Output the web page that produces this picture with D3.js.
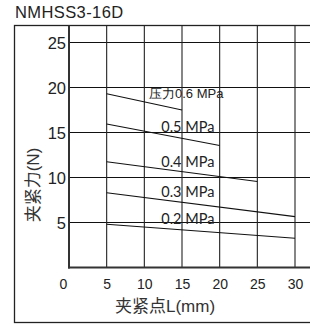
<!DOCTYPE html>
<html>
<head>
<meta charset="utf-8">
<script src="https://cdn.jsdelivr.net/npm/d3@7"></script>
<style>
  body { margin: 0; background: #fff; }
  svg { display: block; }
</style>
</head>
<body>
<div id="chart"></div>
<script>
// chart values
const title = 'NMHSS3-16D';
const xTitle = '夹紧点L(mm)';
const yTitle = '夹紧力(N)';
const xTicks = [0, 5, 10, 15, 20, 25, 30];
const yTicks = [5, 10, 15, 20, 25];
const pressureLabels = ['0.2 MPa', '0.3 MPa', '0.4 MPa', '0.5 MPa', '压力0.6 MPa'];
const startL = [5, 5, 5, 5, 5];
const endL = [30, 30, 25, 20, 15];
const forceAtStart = [4.8, 8.3, 11.75, 15.95, 19.3];
const forceAtEnd = [3.25, 5.65, 9.55, 13.55, 17.5];

const width = 310, height = 324;
const svg = d3.select('#chart').append('svg')
    .attr('width', width)
    .attr('height', height);

const x = d3.scaleLinear().domain([0, 30]).range([69, 295]);
const y = d3.scaleLinear().domain([0, 25]).range([267.5, 42.5]);
const plotTop = 25.5, plotRight = 330;

// outer frame
svg.append('rect')
    .attr('x', 14.5).attr('y', 25.5)
    .attr('width', 330).attr('height', 297)
    .attr('fill', 'none').attr('stroke', '#222').attr('stroke-width', 1.3);

svg.append('text')
    .attr('x', 15).attr('y', 18)
    .attr('font-family', 'Liberation Sans, Arial, sans-serif')
    .attr('font-size', 16.5)
    .attr('letter-spacing', 0.4)
    .attr('fill', '#222')
    .text(title);

// grid
const grid = svg.append('g');
grid.selectAll('.hg').data(yTicks).enter().append('line')
    .attr('x1', x(0)).attr('x2', plotRight)
    .attr('y1', d => y(d)).attr('y2', d => y(d))
    .attr('stroke', '#111').attr('stroke-width', 1.1);
grid.selectAll('.vg').data(xTicks.filter(d => d > 0)).enter().append('line')
    .attr('x1', d => x(d)).attr('x2', d => x(d))
    .attr('y1', plotTop).attr('y2', y(0))
    .attr('stroke', '#222').attr('stroke-width', 1.1);

// axes
const yAxis = svg.append('g')
    .attr('transform', `translate(${x(0)},0)`)
    .call(d3.axisLeft(y).tickValues(yTicks).tickSize(0).tickPadding(3));
const xAxis = svg.append('g')
    .attr('transform', `translate(0,${y(0)})`)
    .call(d3.axisBottom(x).tickValues(xTicks).tickSize(0).tickPadding(12));
[yAxis, xAxis].forEach(a => {
    a.select('.domain').remove();
    a.selectAll('text')
        .attr('font-family', 'Liberation Sans, Arial, sans-serif')
        .attr('fill', '#222');
});
yAxis.selectAll('text').attr('font-size', 16.5).attr('dy', '0.36em');
xAxis.selectAll('text').attr('font-size', 14)
    .attr('dx', d => d === 0 ? -6 : 0);

svg.append('line')
    .attr('x1', x(0)).attr('x2', x(0))
    .attr('y1', plotTop).attr('y2', y(0) + 1)
    .attr('stroke', '#333').attr('stroke-width', 2);
svg.append('line')
    .attr('x1', x(0) - 1).attr('x2', plotRight)
    .attr('y1', y(0)).attr('y2', y(0))
    .attr('stroke', '#333').attr('stroke-width', 2);

// pressure lines
const series = pressureLabels.map((label, i) => ({
    label,
    pts: [[startL[i], forceAtStart[i]], [endL[i], forceAtEnd[i]]]
}));
const line = d3.line().x(d => x(d[0])).y(d => y(d[1]));
svg.append('g').selectAll('path').data(series).enter().append('path')
    .attr('d', d => line(d.pts))
    .attr('fill', 'none').attr('stroke', '#111').attr('stroke-width', 1.1);

// labels (right edge in L units, baseline in N units)
const labelEnd = [19.3, 19.3, 19.3, 19.3, 20.5];
const labelBase = [4.83, 7.87, 11.2, 15.1, 18.83];
svg.append('g').selectAll('text').data(series).enter().append('text')
    .attr('x', (d, i) => x(labelEnd[i]))
    .attr('y', (d, i) => y(labelBase[i]))
    .attr('text-anchor', 'end')
    .attr('font-family', (d, i) => i === 4 ? 'Liberation Sans, Arial, sans-serif' : 'Lato, sans-serif')
    .attr('font-size', (d, i) => i === 4 ? 13 : 14.5)
    .attr('fill', '#222')
    .text(d => d.label);

// axis titles
svg.append('text')
    .attr('x', 165).attr('y', 312)
    .attr('text-anchor', 'middle')
    .attr('font-family', 'Liberation Sans, Noto Sans CJK SC, sans-serif')
    .attr('font-size', 17)
    .attr('fill', '#333')
    .text(xTitle);
svg.append('text')
    .attr('transform', 'translate(39,185) rotate(-90)')
    .attr('text-anchor', 'middle')
    .attr('font-family', 'Liberation Sans, Noto Sans CJK SC, sans-serif')
    .attr('font-size', 17)
    .attr('fill', '#333')
    .text(yTitle);
</script>
</body>
</html>
